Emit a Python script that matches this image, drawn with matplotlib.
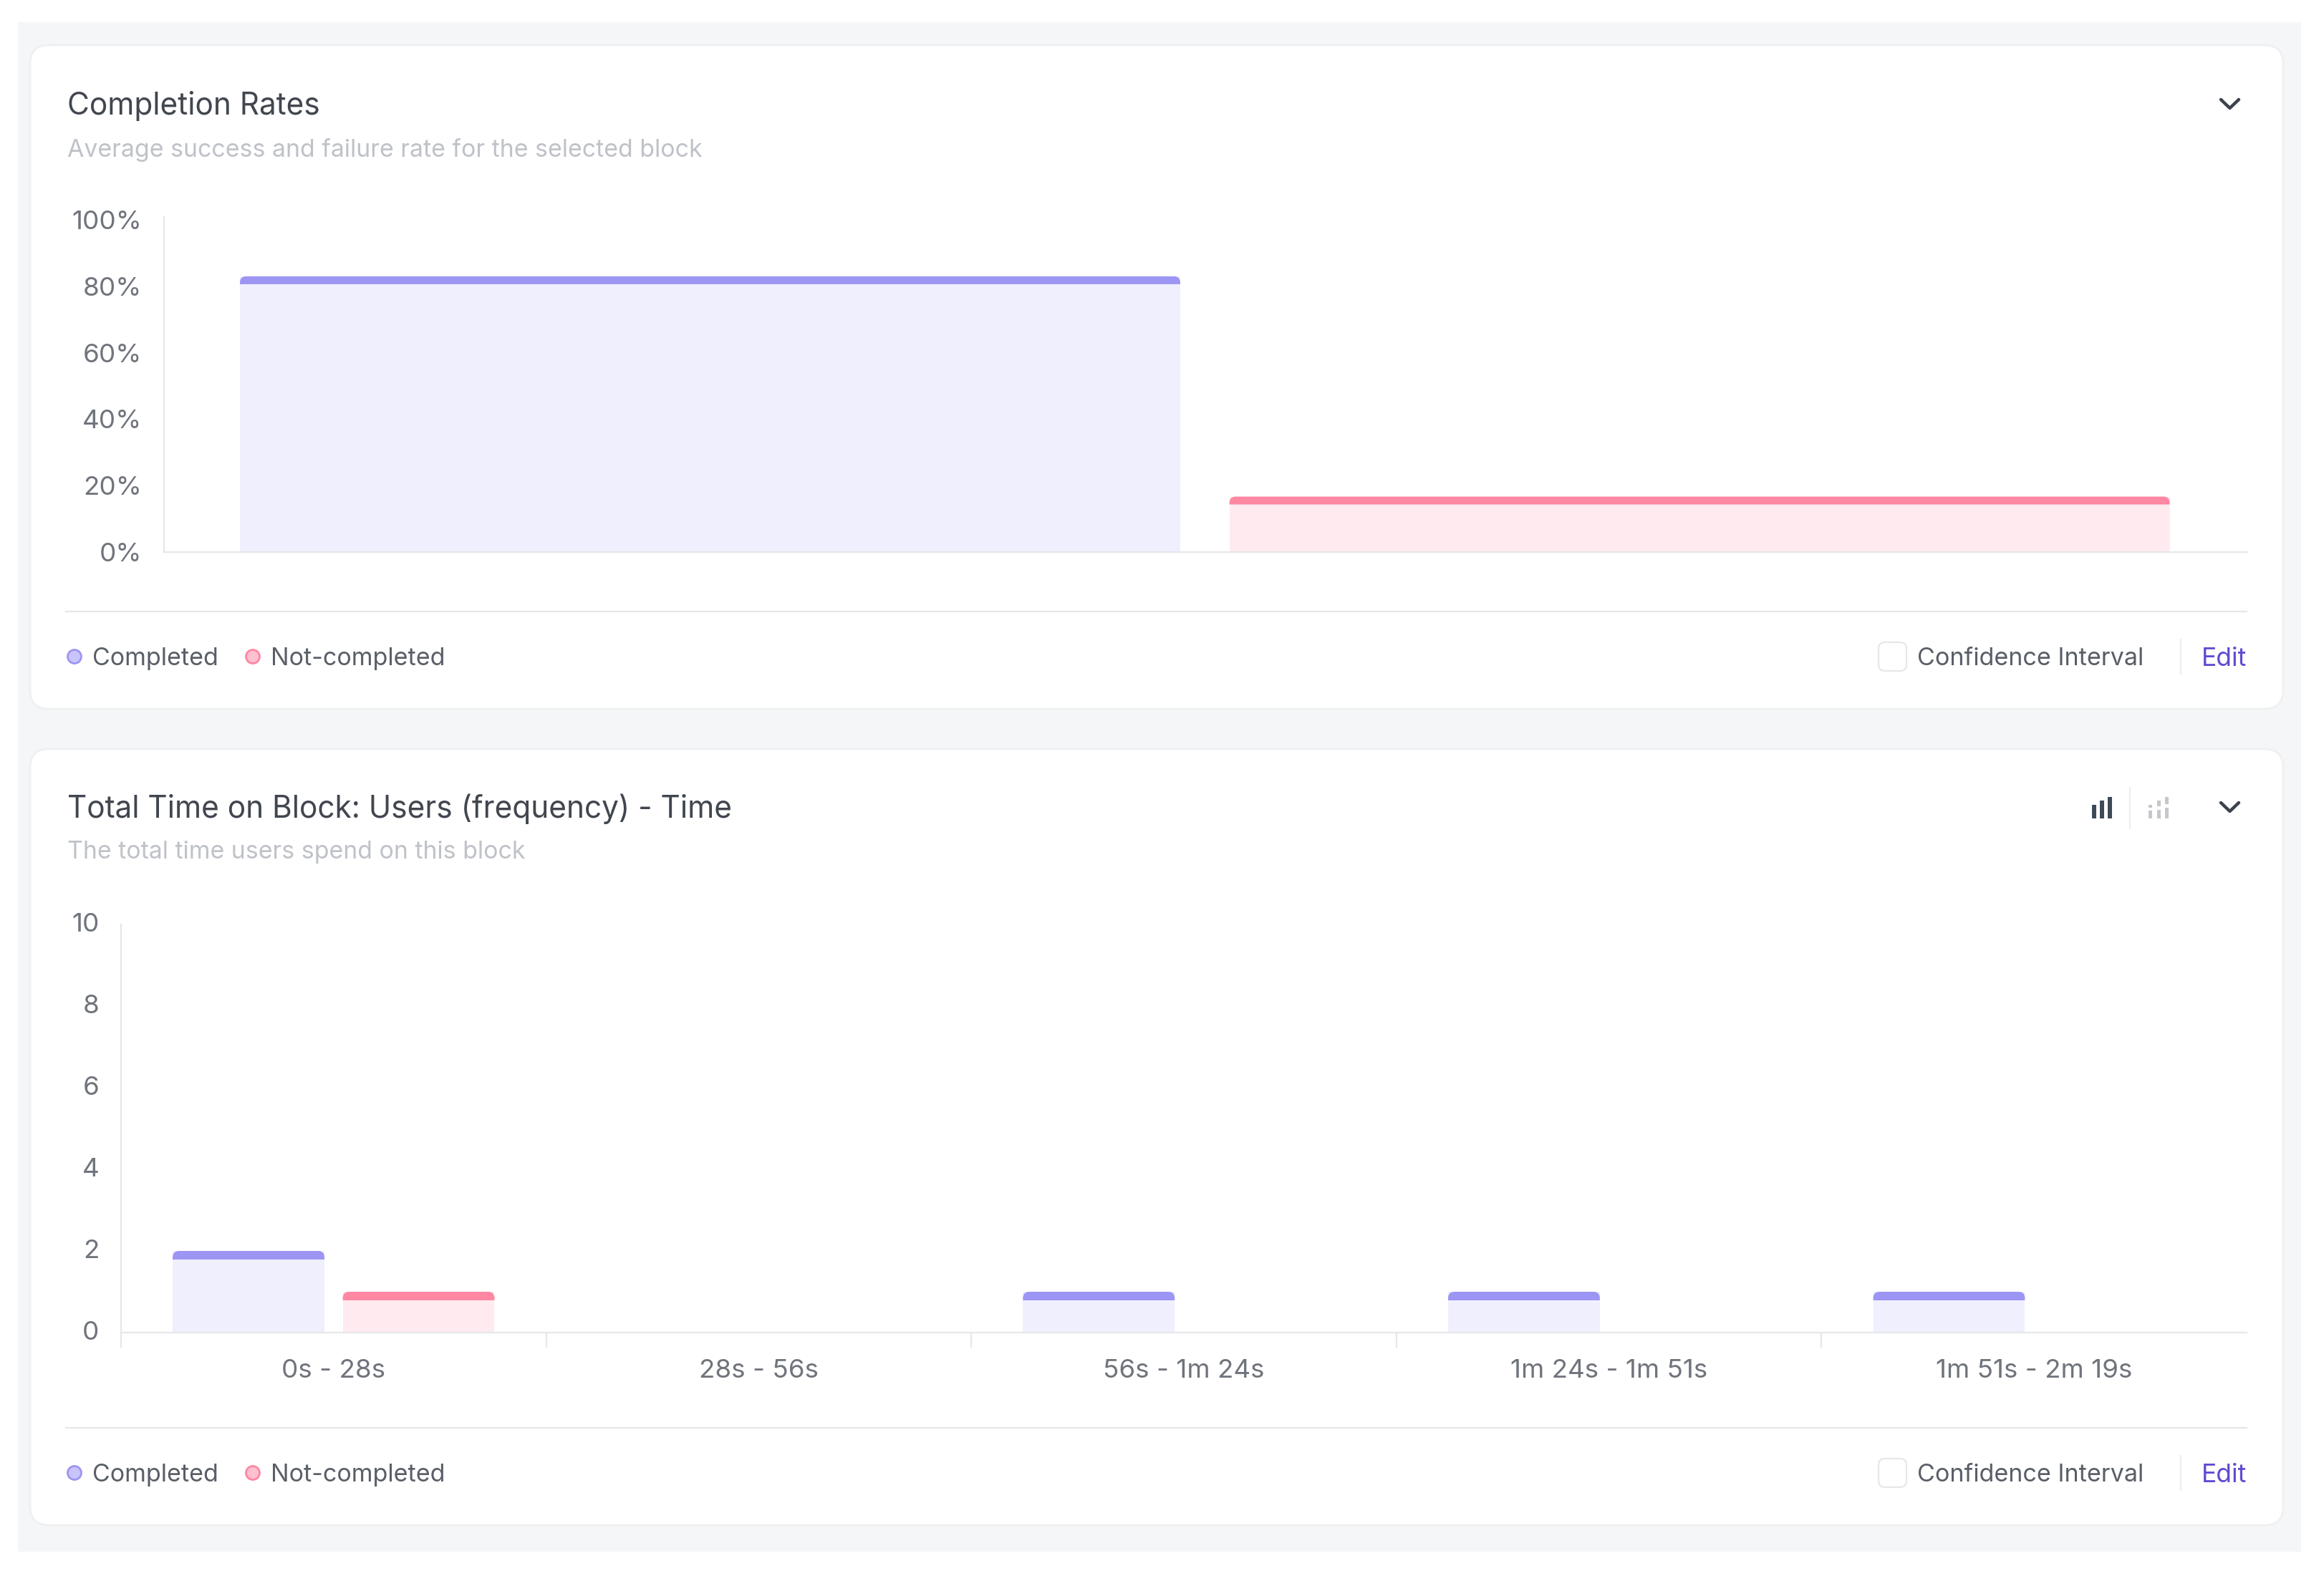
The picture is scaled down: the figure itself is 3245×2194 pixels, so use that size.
import matplotlib
matplotlib.use("Agg")
import matplotlib.pyplot as plt
from matplotlib.patches import FancyBboxPatch, PathPatch, Rectangle, Circle
from matplotlib.path import Path
from matplotlib.transforms import ScaledTranslation

W, H = 3245, 2194
plt.rcParams['font.family'] = ['Inter', 'DejaVu Sans']

# data
rate_labels = ["Completed", "Not-completed"]
rate_values = [83.0, 16.7]
rate_ticks = [0, 20, 40, 60, 80, 100]
rate_ticklabels = ["0%", "20%", "40%", "60%", "80%", "100%"]

time_bins = ["0s - 28s", "28s - 56s", "56s - 1m 24s", "1m 24s - 1m 51s", "1m 51s - 2m 19s"]
time_completed = [2, 0, 1, 1, 1]
time_not_completed = [1, 0, 0, 0, 0]
time_ticks = [0, 2, 4, 6, 8, 10]

# colours
GREY_BG = "#f5f6f8"
CARD_EDGE = "#eff0f2"
LINE = "#e6e7ea"
TITLE = "#41464f"
SUB = "#bfc2c8"
TICK = "#70747c"
LEGEND = "#595e67"
PURPLE = "#5f4bd1"
C_DARK, C_LIGHT = "#9d95f3", "#f0effe"
N_DARK, N_LIGHT = "#ff87a2", "#ffebef"

fig = plt.figure(figsize=(W / 100, H / 100), dpi=100, facecolor="white")

# page layer, in pixels of the picture
bg = fig.add_axes([0, 0, 1, 1])
bg.set_xlim(0, W)
bg.set_ylim(H, 0)
bg.axis("off")


def px_axes(left, top, right, bottom):
    ax = fig.add_axes([left / W, 1 - bottom / H, (right - left) / W, (bottom - top) / H])
    ax.patch.set_alpha(0)
    for side in ("top", "right"):
        ax.spines[side].set_visible(False)
    for side in ("left", "bottom"):
        ax.spines[side].set_color(LINE)
        ax.spines[side].set_linewidth(1.6)
    return ax


def draw_bar(ax, x, width, value, dark, light, band_px=11, radius_px=9):
    """Light bar with a darker band on top, top corners rounded"""
    if value <= 0:
        return
    ax.bar(x, value, width=width, color=light, linewidth=0, zorder=2)
    bbox = ax.get_window_extent()
    x0, x1 = ax.get_xlim()
    y0, y1 = ax.get_ylim()
    sx = (x1 - x0) / bbox.width
    sy = (y1 - y0) / bbox.height
    left, right = x - width / 2, x + width / 2
    low = value - band_px * sy
    rx, ry = radius_px * sx, radius_px * sy
    verts = [(left, low), (left, value - ry), (left, value), (left + rx, value),
             (right - rx, value), (right, value), (right, value - ry), (right, low), (left, low)]
    codes = [Path.MOVETO, Path.LINETO, Path.CURVE3, Path.CURVE3,
             Path.LINETO, Path.CURVE3, Path.CURVE3, Path.LINETO, Path.CLOSEPOLY]
    ax.add_patch(PathPatch(Path(verts, codes), facecolor=dark, linewidth=0, zorder=3))


def card(top, bottom, title, subtitle, title_y, sub_y, legend_y, divider_y):
    bg.add_patch(FancyBboxPatch((42, top), 3146, bottom - top,
                                boxstyle="round,pad=0,rounding_size=26",
                                facecolor="white", edgecolor=CARD_EDGE, linewidth=2))
    bg.text(94, title_y + 3, title, fontsize=30.5, color=TITLE, va="center")
    bg.text(94, sub_y + 3, subtitle, fontsize=24.4, color=SUB, va="center")
    bg.plot([92, 3137], [divider_y, divider_y], color=LINE, lw=1.6)
    # legend
    bg.add_patch(Circle((104, legend_y), 9.5, facecolor="#c9c5fb", edgecolor=C_DARK, lw=2))
    bg.text(129, legend_y + 3, rate_labels[0], fontsize=24.5, color=LEGEND, va="center")
    bg.add_patch(Circle((353, legend_y), 9.5, facecolor="#ffc0cf", edgecolor=N_DARK, lw=2))
    bg.text(378, legend_y + 3, rate_labels[1], fontsize=24.5, color=LEGEND, va="center")
    # right side controls
    bg.add_patch(FancyBboxPatch((2623, legend_y - 20), 39, 40,
                                boxstyle="round,pad=0,rounding_size=9",
                                facecolor="white", edgecolor=LINE, linewidth=1.6))
    bg.text(2677, legend_y + 3, "Confidence Interval", fontsize=24.6, color=LEGEND, va="center")
    bg.plot([3045, 3045], [legend_y - 24, legend_y + 24], color="#eceef0", lw=1.6)
    bg.text(3074, legend_y + 3, "Edit", fontsize=25.5, color=PURPLE, va="center")
    # chevron
    bg.plot([3101, 3113.5, 3126], [title_y - 6, title_y + 6, title_y - 6], color="#3d434c",
            lw=3.2, solid_capstyle="round", solid_joinstyle="round")


# page background
bg.add_patch(Rectangle((25, 31), 3188, 2136, facecolor=GREY_BG, edgecolor="none"))

card(63, 990, "Completion Rates", "Average success and failure rate for the selected block",
     145, 206, 917, 854)
card(1046, 2130, "Total Time on Block: Users (frequency) - Time", "The total time users spend on this block",
     1127, 1187, 2057, 1994)

# chart type icons on the second card
for bx, btop in ((2921, 1124), (2932, 1118), (2943, 1113)):
    bg.add_patch(Rectangle((bx, btop), 6, 1143 - btop, facecolor="#3f4a58", edgecolor="none"))
bg.plot([2974, 2974], [1100, 1157], color="#eceef0", lw=1.6)
for bx, segs in ((3000, [(1124, 1128), (1132, 1143)]),
                 (3012, [(1118, 1126), (1131, 1143)]),
                 (3023, [(1113, 1123), (1128, 1143)])):
    for y0, y1 in segs:
        bg.add_patch(Rectangle((bx, y0), 5, y1 - y0, facecolor="#c4c7cc", edgecolor="none"))

# Completion rates chart
ax1 = px_axes(229, 303, 3137, 771)
ax1.set_xlim(0, 1)
ax1.set_ylim(0, 100 * (771 - 303) / (771 - 307))
ax1.set_yticks(rate_ticks, rate_ticklabels)
ax1.set_xticks([])
ax1.tick_params(axis="y", length=0, pad=22, labelsize=26.5, labelcolor=TICK)
draw_bar(ax1, 0.2622, 0.4515, rate_values[0], C_DARK, C_LIGHT)
draw_bar(ax1, 0.7373, 0.4515, rate_values[1], N_DARK, N_LIGHT)

# Time on block chart
ax2 = px_axes(169, 1291, 3137, 1861)
ax2.set_xlim(-0.5, len(time_bins) - 0.5)
ax2.set_ylim(0, 10)
ax2.set_yticks(time_ticks)
ax2.tick_params(axis="y", length=0, pad=22, labelsize=26.5, labelcolor=TICK)
# the last boundary has no tick in the original
ax2.set_xticks([i - 0.5 for i in range(len(time_bins))], [])
ax2.set_xticks(range(len(time_bins)), time_bins, minor=True)
ax2.tick_params(axis="x", which="major", length=15, width=1.6, color=LINE)
ax2.tick_params(axis="x", which="minor", length=0, pad=27, labelsize=26.5, labelcolor=TICK)
for label in ax2.get_yticklabels():
    label.set_transform(label.get_transform() + ScaledTranslation(0, 3 / 100, fig.dpi_scale_trans))
for i in range(len(time_bins)):
    draw_bar(ax2, i - 0.2, 0.357, time_completed[i], C_DARK, C_LIGHT, band_px=12)
    draw_bar(ax2, i + 0.2, 0.357, time_not_completed[i], N_DARK, N_LIGHT, band_px=12)

fig.savefig("out.png", dpi=100)
